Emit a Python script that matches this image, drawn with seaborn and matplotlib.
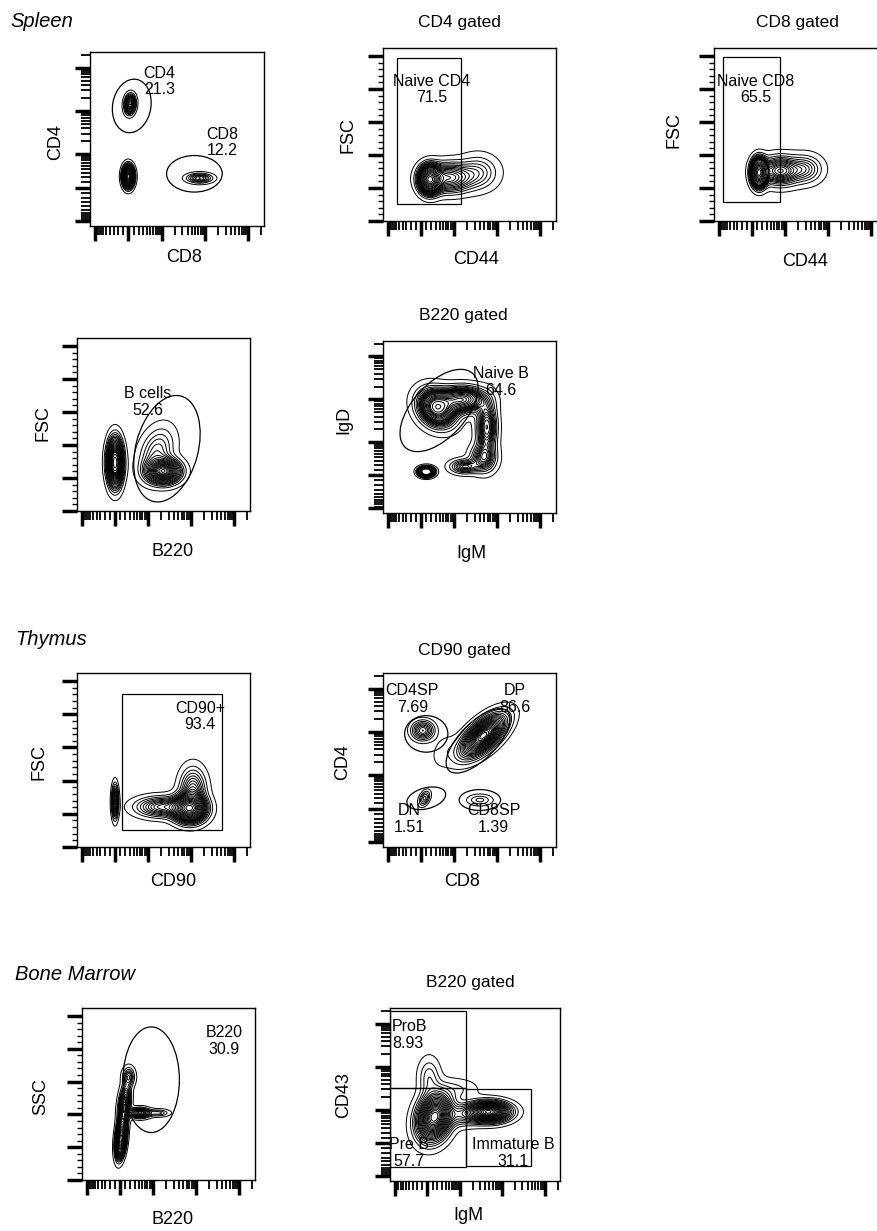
import numpy as np
import matplotlib
matplotlib.use("Agg")
import matplotlib.pyplot as plt
from matplotlib.patches import Rectangle, Ellipse
import seaborn as sns

sns.set_style("white")
plt.rcParams['font.family'] = ['Liberation Sans', 'DejaVu Sans']
plt.rcParams['text.color'] = 'black'

W, H = 877, 1231

# populations per plot: (x, y, sd_x, sd_y, rho, weight), axes run 0-1 on the display scale
spleen_t_pops = [(0.23, 0.70, 0.017, 0.03, 0.1, 0.213),
                 (0.22, 0.285, 0.017, 0.033, 0.0, 0.60),
                 (0.63, 0.275, 0.042, 0.016, 0.0, 0.122)]
cd4_gated_pops = [(0.27, 0.24, 0.035, 0.045, 0.0, 0.45),
                  (0.38, 0.25, 0.08, 0.05, 0.0, 0.40),
                  (0.55, 0.28, 0.07, 0.06, 0.0, 0.15)]
cd8_gated_pops = [(0.26, 0.28, 0.025, 0.045, 0.0, 0.45),
                  (0.38, 0.29, 0.07, 0.05, 0.0, 0.40),
                  (0.53, 0.30, 0.06, 0.05, 0.0, 0.15)]
spleen_b_pops = [(0.22, 0.28, 0.025, 0.075, 0.0, 0.45),
                 (0.50, 0.23, 0.055, 0.04, 0.0, 0.38),
                 (0.46, 0.34, 0.06, 0.085, 0.3, 0.17)]
b220_gated_pops = [(0.31, 0.61, 0.065, 0.065, -0.2, 0.35),
                   (0.46, 0.66, 0.08, 0.045, 0.0, 0.25),
                   (0.60, 0.50, 0.035, 0.09, 0.0, 0.15),
                   (0.58, 0.32, 0.045, 0.05, 0.0, 0.08),
                   (0.47, 0.27, 0.05, 0.025, 0.0, 0.04),
                   (0.25, 0.24, 0.025, 0.016, 0.0, 0.06)]
thymus_pops = [(0.22, 0.26, 0.011, 0.055, 0.0, 0.06),
               (0.65, 0.22, 0.055, 0.045, 0.0, 0.52),
               (0.49, 0.23, 0.09, 0.035, 0.0, 0.22),
               (0.67, 0.33, 0.045, 0.075, 0.0, 0.20)]
cd90_gated_pops = [(0.23, 0.67, 0.035, 0.03, 0.0, 0.077),
                   (0.58, 0.64, 0.07, 0.065, 0.65, 0.866),
                   (0.24, 0.28, 0.018, 0.024, 0.4, 0.015),
                   (0.56, 0.27, 0.04, 0.018, 0.0, 0.014),
                   (0.36, 0.55, 0.05, 0.06, 0.3, 0.02)]
bm_pops = [(0.225, 0.24, 0.017, 0.06, 0.3, 0.5),
           (0.245, 0.43, 0.021, 0.07, 0.3, 0.25),
           (0.335, 0.39, 0.035, 0.018, 0.0, 0.1),
           (0.44, 0.39, 0.04, 0.013, 0.0, 0.03),
           (0.27, 0.60, 0.022, 0.035, 0.0, 0.06)]
bm_b220_pops = [(0.26, 0.37, 0.06, 0.08, 0.2, 0.57),
                (0.58, 0.40, 0.075, 0.035, 0.0, 0.31),
                (0.23, 0.60, 0.04, 0.07, 0.0, 0.045),
                (0.40, 0.53, 0.08, 0.04, 0.0, 0.025),
                (0.42, 0.38, 0.07, 0.04, 0.0, 0.06)]

# gates: ("rect", x0, y0, x1, y1) or ("ell", cx, cy, w, h, angle)
spleen_t_gates = [("ell", 0.24, 0.69, 0.22, 0.31, -10), ("ell", 0.60, 0.30, 0.32, 0.21, 0)]
cd4_gated_gates = [("rect", 0.08, 0.10, 0.45, 0.94)]
cd8_gated_gates = [("rect", 0.05, 0.11, 0.38, 0.95)]
spleen_b_gates = [("ell", 0.52, 0.36, 0.36, 0.63, -15)]
b220_gated_gates = [("ell", 0.324, 0.596, 0.58, 0.31, 48)]
thymus_gates = [("rect", 0.26, 0.10, 0.84, 0.88)]
cd90_gated_gates = [("ell", 0.25, 0.65, 0.25, 0.21, 0), ("ell", 0.55, 0.61, 0.48, 0.21, 45),
                    ("ell", 0.25, 0.28, 0.23, 0.12, 15), ("ell", 0.56, 0.27, 0.24, 0.12, 0)]
bm_gates = [("ell", 0.40, 0.583, 0.326, 0.614, 0)]
bm_b220_gates = [("rect", 0.0, 0.536, 0.445, 0.98), ("rect", 0.0, 0.083, 0.445, 0.536),
                 ("rect", 0.445, 0.088, 0.83, 0.53)]

# gate names and frequencies (%), with label spot
spleen_t_labels = [("CD4", "21.3", 0.40, 0.83), ("CD8", "12.2", 0.76, 0.48)]
cd4_gated_labels = [("Naive CD4", "71.5", 0.28, 0.76)]
cd8_gated_labels = [("Naive CD8", "65.5", 0.24, 0.76)]
spleen_b_labels = [("B cells", "52.6", 0.41, 0.63)]
b220_gated_labels = [("Naive B", "64.6", 0.68, 0.76)]
thymus_labels = [("CD90+", "93.4", 0.71, 0.75)]
cd90_gated_labels = [("CD4SP", "7.69", 0.17, 0.85), ("DP", "86.6", 0.76, 0.85),
                     ("DN", "1.51", 0.15, 0.16), ("CD8SP", "1.39", 0.64, 0.16)]
bm_labels = [("B220", "30.9", 0.82, 0.81)]
bm_b220_labels = [("Pre B", "57.7", 0.11, 0.16), ("Immature B", "31.1", 0.726, 0.16)]


def biex(v):
    return 0.22 + 0.1086 * np.arcsinh(np.asarray(v, float) / 348.0)


def set_ticks(ax, axis, kind):
    if kind == "fl":
        major = biex([-1000, 0, 1000, 1e4, 1e5])
        minor = biex(list(range(-900, 0, 100)) + list(range(100, 1000, 100))
                     + list(range(2000, 10000, 1000)) + list(range(20000, 100000, 10000)) + [2e5])
        mlen, mwid = 6.5, 1.3
    else:
        major = np.arange(0, 260000, 50000) / 262144
        minor = np.arange(10000, 260000, 10000) / 262144
        mlen, mwid = 3.8, 1.0
    a = ax.xaxis if axis == "x" else ax.yaxis
    a.set_ticks(major)
    a.set_ticks(minor, minor=True)
    a.set_ticklabels([])
    a.set_ticklabels([], minor=True)
    ax.tick_params(axis=axis, which="major", length=10.5, width=2.5)
    ax.tick_params(axis=axis, which="minor", length=mlen, width=mwid)


def density(pops, n=320):
    g = np.linspace(0, 1, n)
    X, Y = np.meshgrid(g, g)
    Z = np.zeros_like(X)
    for x, y, sx, sy, r, w in pops:
        dx = (X - x) / sx
        dy = (Y - y) / sy
        q = (dx ** 2 - 2 * r * dx * dy + dy ** 2) / (1 - r ** 2)
        Z += w / (2 * np.pi * sx * sy * np.sqrt(1 - r ** 2)) * np.exp(-0.5 * q)
    return X, Y, Z


def prob_levels(Z, props):
    v = np.sort(Z.ravel())
    c = np.cumsum(v)
    c /= c[-1]
    return np.unique(v[np.searchsorted(c, props)])


def panel(box, pops, gates, labels, xlab, ylab, xkind, ykind, title=None):
    x0, y0, x1, y1 = box
    ax = fig.add_axes([x0 / W, 1 - y1 / H, (x1 - x0) / W, (y1 - y0) / H])
    X, Y, Z = density(pops)
    ax.contour(X, Y, Z, levels=prob_levels(Z, np.arange(0.02, 1.0, 0.045)),
               colors="black", linewidths=0.7)
    for g in gates:
        if g[0] == "rect":
            ax.add_patch(Rectangle((g[1], g[2]), g[3] - g[1], g[4] - g[2],
                                   fill=False, ec="black", lw=0.9))
        else:
            ax.add_patch(Ellipse((g[1], g[2]), g[3], g[4], angle=g[5],
                                 fill=False, ec="black", lw=0.9))
    for name, pct, lx, ly in labels:
        ax.text(lx, ly, name + "\n" + pct, ha="center", va="center",
                multialignment="center", fontsize=11.5, linespacing=1.15)
    ax.set_xlim(0, 1)
    ax.set_ylim(0, 1)
    ax.tick_params(which="both", direction="out", bottom=True, left=True, color="black")
    set_ticks(ax, "x", xkind)
    set_ticks(ax, "y", ykind)
    for s in ax.spines.values():
        s.set_color("black")
        s.set_linewidth(1.0)
    fig.text(xlab[1] / W, 1 - xlab[2] / H, xlab[0], ha="center", va="center", fontsize=13)
    fig.text(ylab[1] / W, 1 - ylab[2] / H, ylab[0], ha="center", va="center",
             rotation=90, fontsize=13)
    if title:
        fig.text(title[1] / W, 1 - title[2] / H, title[0], ha="center", va="baseline",
                 fontsize=12.5)
    return ax


fig = plt.figure(figsize=(W / 100, H / 100), dpi=100)

for name, x, y in [("Spleen", 10, 27), ("Thymus", 15, 645), ("Bone Marrow", 15, 980)]:
    fig.text(x / W, 1 - y / H, name, style="italic", fontsize=14.5, ha="left", va="baseline")

panel((90, 52, 264, 226), spleen_t_pops, spleen_t_gates, spleen_t_labels,
      ("CD8", 184, 257), ("CD4", 56, 142), "fl", "fl")
panel((383, 48, 556, 221), cd4_gated_pops, cd4_gated_gates, cd4_gated_labels,
      ("CD44", 476, 260), ("FSC", 348, 135), "fl", "lin", ("CD4 gated", 459, 27))
panel((714, 48, 887, 221), cd8_gated_pops, cd8_gated_gates, cd8_gated_labels,
      ("CD44", 805, 262), ("FSC", 674, 130), "fl", "lin", ("CD8 gated", 797, 27))
panel((77, 338, 250, 511), spleen_b_pops, spleen_b_gates, spleen_b_labels,
      ("B220", 173, 552), ("FSC", 43, 423), "fl", "lin")
panel((383, 341, 556, 513), b220_gated_pops, b220_gated_gates, b220_gated_labels,
      ("IgM", 471, 553), ("IgD", 344, 420), "fl", "fl", ("B220 gated", 463, 320))
panel((77, 673, 250, 847), thymus_pops, thymus_gates, thymus_labels,
      ("CD90", 173, 882), ("FSC", 39, 762), "fl", "lin")
panel((383, 673, 556, 847), cd90_gated_pops, cd90_gated_gates, cd90_gated_labels,
      ("CD8", 462, 882), ("CD4", 343, 762), "fl", "fl", ("CD90 gated", 464, 655))
panel((82, 1008, 255, 1180), bm_pops, bm_gates, bm_labels,
      ("B220", 173, 1219), ("SSC", 41, 1097), "fl", "lin")
ax9 = panel((390, 1008, 560, 1181), bm_b220_pops, bm_b220_gates, bm_b220_labels,
            ("IgM", 468, 1216), ("CD43", 344, 1095), "fl", "fl", ("B220 gated", 470, 987))
ax9.text(0.012, 0.845, "ProB\n8.93", ha="left", va="center", multialignment="left",
         fontsize=11.5, linespacing=1.15)

fig.savefig("out.png", dpi=100)
